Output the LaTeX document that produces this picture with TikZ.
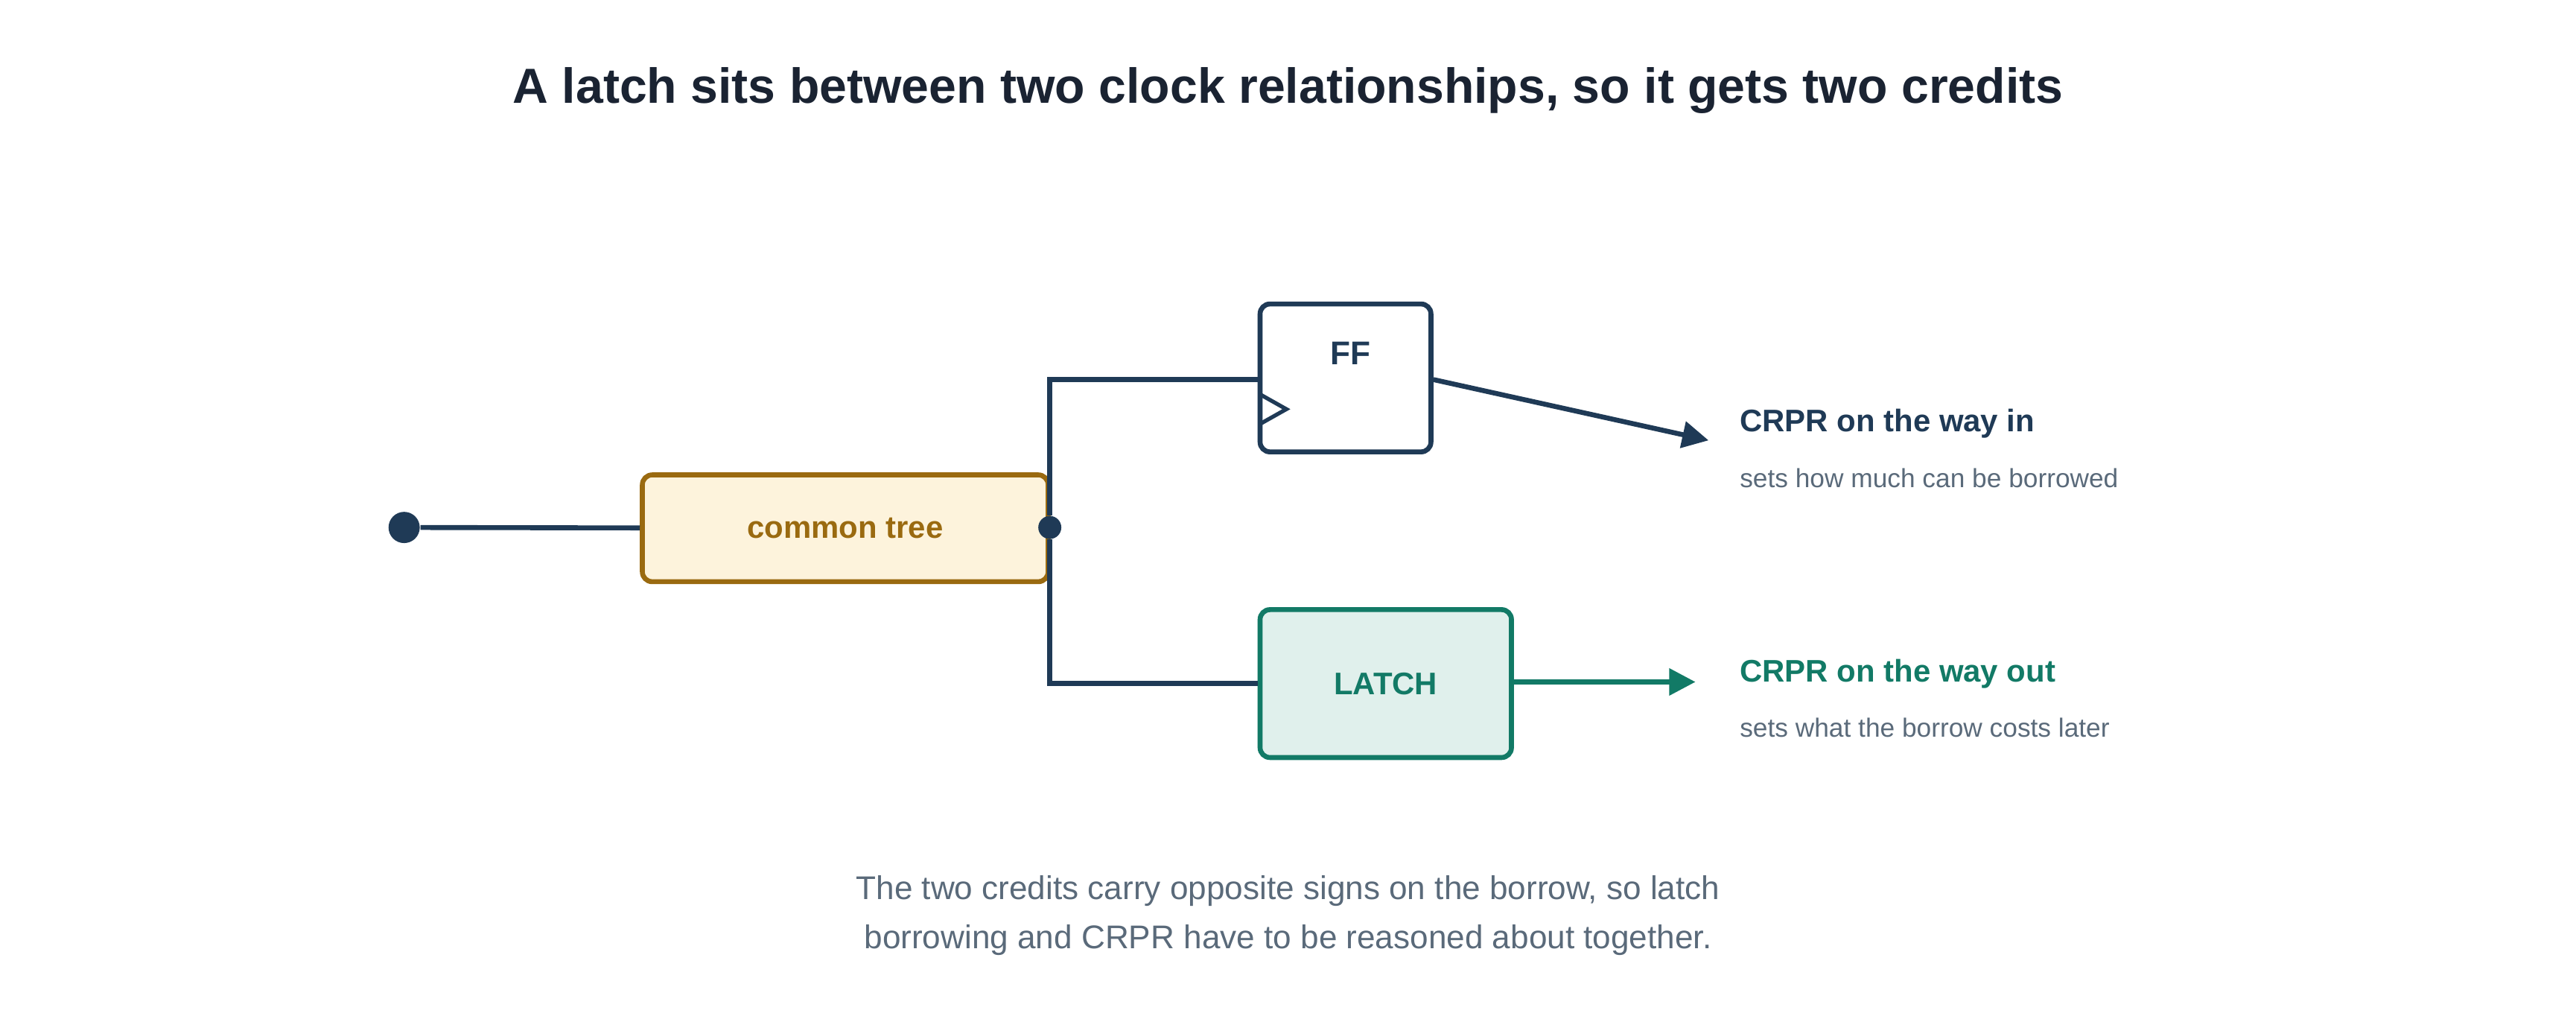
\documentclass[tikz,border=0pt]{standalone}
\usepackage{fontspec}
\setmainfont{Liberation Sans}
\usetikzlibrary{arrows.meta}
\definecolor{navy}{HTML}{1F3A56}
\definecolor{ink}{HTML}{1A2332}
\definecolor{gold}{HTML}{9A6A10}
\definecolor{goldbg}{HTML}{FDF3DC}
\definecolor{teal}{HTML}{127A66}
\definecolor{tealbg}{HTML}{E0F0EC}
\definecolor{muted}{HTML}{5A6A7A}
\begin{document}
\begin{tikzpicture}
[x=0.5pt,y=-0.5pt
,wire/.style={draw=navy,line width=1.5pt}
,blk/.style={draw,line width=1.5pt,rounded corners=3pt,inner sep=0pt,font=\bfseries\fontsize{9.5}{11}\selectfont}
,dot/.style={circle,fill=navy,inner sep=0pt}
,credit/.style={line width=1.5pt,arrows={-Triangle[length=8pt,width=8pt]}}
,head/.style={anchor=west,font=\bfseries\fontsize{9.5}{11}\selectfont}
,sub/.style={anchor=west,text=muted,font=\fontsize{8}{10}\selectfont}]
\useasboundingbox (0,0) rectangle (1568,620);
\node[font=\bfseries\fontsize{15}{18}\selectfont,text=ink] (title) at (784,55) {A latch sits between two clock relationships, so it gets two credits};
\node[dot,minimum size=9.5pt] (src) at (246,321) {};
\node[blk,draw=gold,fill=goldbg,text=gold,minimum width=123.5pt,minimum height=32.5pt] (tree) at (514.5,321.5) {\raisebox{-2pt}{common tree}};
\node[dot,minimum size=7pt] (fork) at (639,321) {};
\node[blk,draw=navy,fill=white,text=navy,minimum width=52pt,minimum height=45pt] (ff) at (819,230) {};
\node[text=navy,font=\bfseries\fontsize{10}{12}\selectfont] (fflbl) at (822,215) {FF};
\node[blk,draw=teal,fill=tealbg,text=teal,minimum width=76.5pt,minimum height=45pt] (latch) at (843.5,416) {LATCH};
\coordinate (ffin) at (ff.west |- 0,231);
\coordinate (inend) at (1040,268);
\coordinate (outend) at (1032,415);
\draw[wire] (src) -- (tree);
\draw[wire] (ffin) -| (fork) |- (latch.west);
\draw[draw=navy,line width=1.2pt,line join=miter] (767,240) -- (783,249) -- (767,258);
\draw[credit,navy] (ff.east |- 0,231) -- (inend);
\draw[credit,teal] (latch.east |- 0,415) -- (outend);
\node[head,text=navy] (inlbl) at (1052,258) {CRPR on the way in};
\node[sub] (insub) at (1052,291) {sets how much can be borrowed};
\node[head,text=teal] (outlbl) at (1052,410) {CRPR on the way out};
\node[sub] (outsub) at (1052,443) {sets what the borrow costs later};
\node[text=muted,align=center,font=\fontsize{10}{15}\selectfont] (note) at (784,557) {The two credits carry opposite signs on the borrow, so latch\\borrowing and CRPR have to be reasoned about together.};
\end{tikzpicture}
\end{document}
